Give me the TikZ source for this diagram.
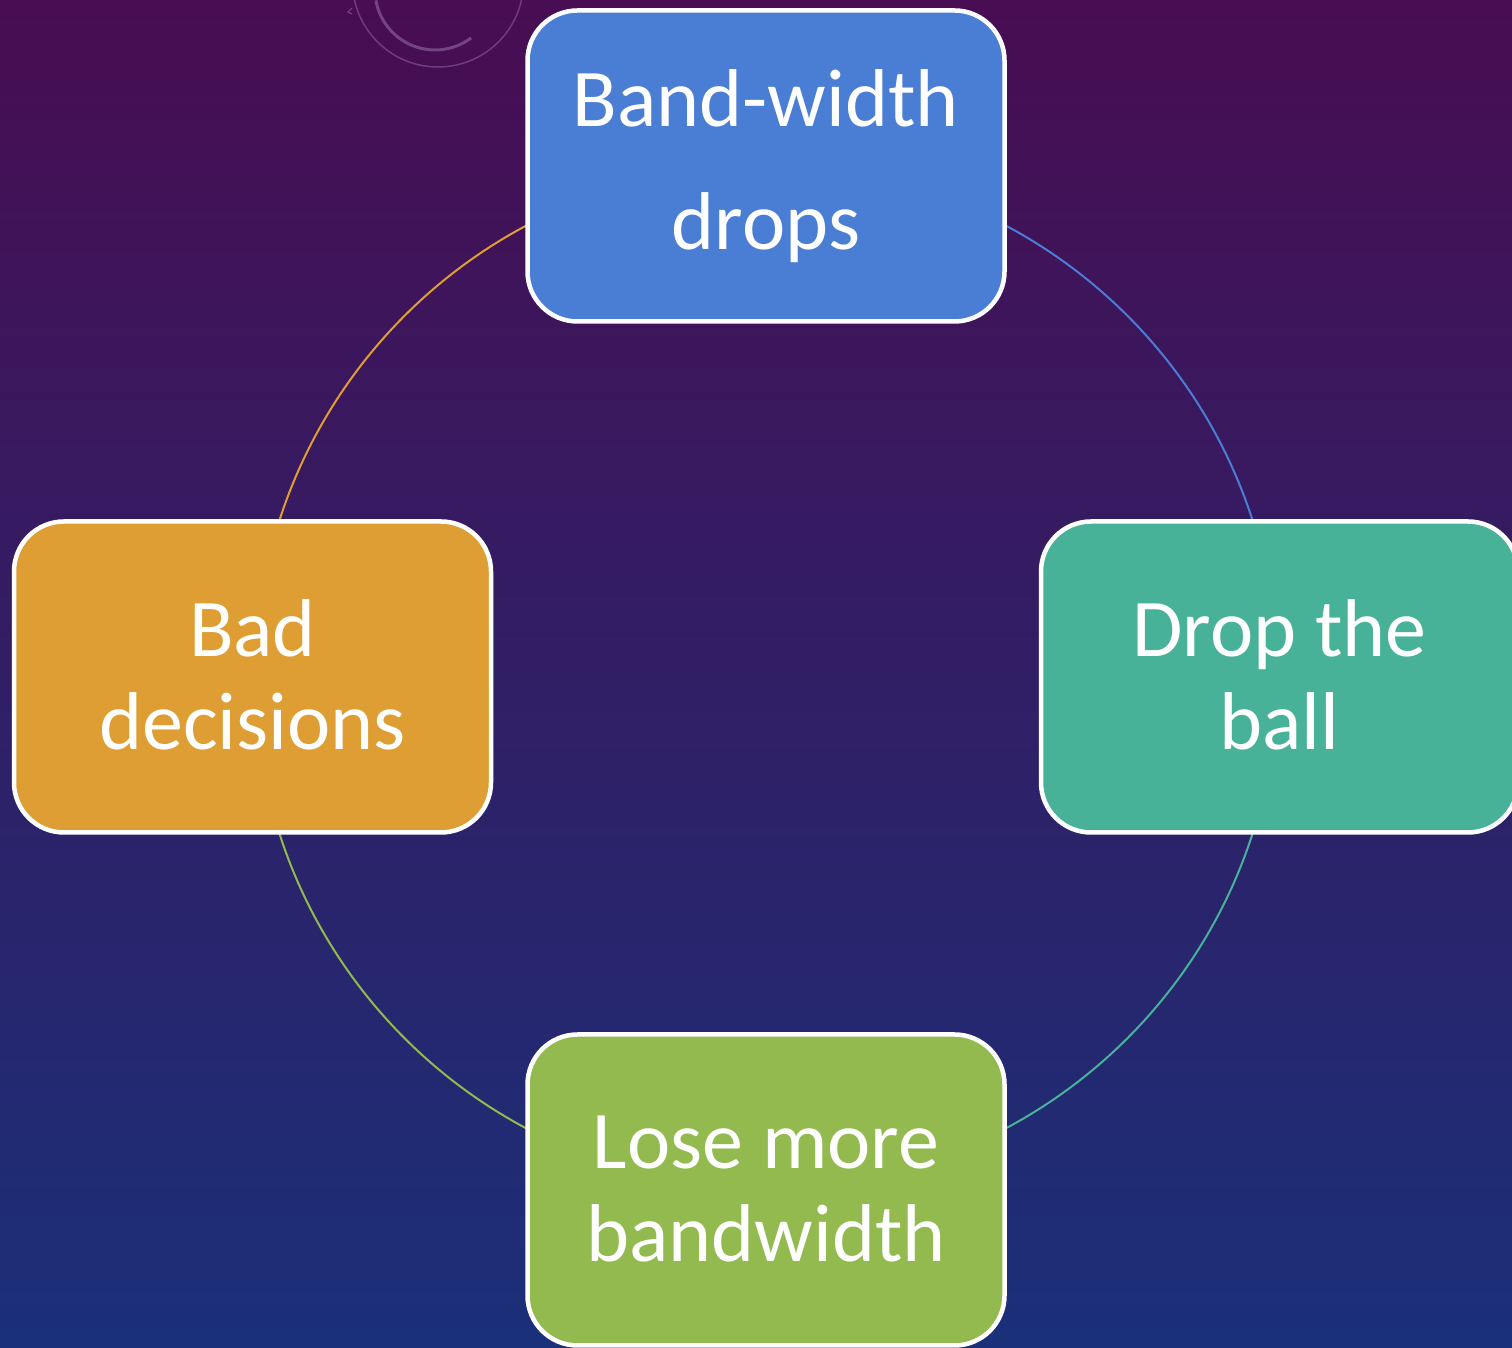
\documentclass[tikz,border=0pt]{standalone}
\usepackage{fontspec}
\setmainfont{Carlito}
\definecolor{bgtop}{RGB}{72,13,82}
\definecolor{bgmid}{RGB}{58,30,108}
\definecolor{bgbot}{RGB}{26,48,121}
\definecolor{cblue}{RGB}{74,126,212}
\definecolor{corange}{RGB}{222,158,51}
\definecolor{cteal}{RGB}{72,178,153}
\definecolor{cgreen}{RGB}{146,186,78}
\definecolor{haze}{RGB}{200,170,220}
\tikzset{
  stepbox/.style={draw=white, line width=4.5pt, rounded corners=50pt,
    minimum width=477pt, minimum height=311pt, inner sep=0pt, fill=#1},
  lbl/.style={text=white, align=center, anchor=base, inner sep=0pt},
  ring/.style={line width=2pt, draw=#1}
}
\begin{document}
\begin{tikzpicture}[x=1pt,y=1pt]
  \useasboundingbox (0,0) rectangle (1512,1348);
  \clip (0,0) rectangle (1512,1348);
  % backdrop
  \shade[top color=bgtop, middle color=bgmid, bottom color=bgbot]
    (0,0) rectangle (1512,1348);
  % faint ornament in the top margin
  \coordinate (orn) at (438,1366.5);
  \draw[haze, opacity=0.3, line width=1.5pt] (orn) circle[radius=85.5];
  \coordinate (ornin) at (435,1358);
  \draw[haze, opacity=0.35, line width=3pt]
    (ornin) ++(190:60) arc[start angle=190, end angle=307, radius=60];
  \coordinate (chev) at (348,1336);
  \draw[haze, opacity=0.4, line width=1pt]
    ([shift={(4,4)}]chev) -- (chev) -- ([shift={(4,-2)}]chev);
  % cycle ring
  \coordinate (c) at (766,671);
  \draw[ring=cblue]   (c) ++(90:511)  arc[start angle=90,  end angle=0,   radius=511];
  \draw[ring=cteal]   (c) ++(0:511)   arc[start angle=0,   end angle=-90, radius=511];
  \draw[ring=cgreen]  (c) ++(-90:511) arc[start angle=-90, end angle=-180, radius=511];
  \draw[ring=corange] (c) ++(180:511) arc[start angle=180, end angle=90,  radius=511];
  % boxes
  \node[stepbox=cblue]   (bw)  at (766,1182) {};
  \node[stepbox=cteal]   (dtb) at (1279.5,671) {};
  \node[stepbox=cgreen]  (lmb) at (766,158) {};
  \node[stepbox=corange] (bd)  at (252.5,671) {};
  % labels (base anchor sits on the last line)
  \node[lbl, font=\fontsize{82}{123}\selectfont] (bwt)  at ([yshift=-84]bw.center)  {Band-width\\drops};
  \node[lbl, font=\fontsize{82}{93}\selectfont]  (dtbt) at ([yshift=-73]dtb.center) {Drop the\\ball};
  \node[lbl, font=\fontsize{82}{93}\selectfont]  (lmbt) at ([yshift=-72]lmb.center) {Lose more\\bandwidth};
  \node[lbl, font=\fontsize{82}{93}\selectfont]  (bdt)  at ([yshift=-73]bd.center)  {Bad\\decisions};
\end{tikzpicture}
\end{document}
